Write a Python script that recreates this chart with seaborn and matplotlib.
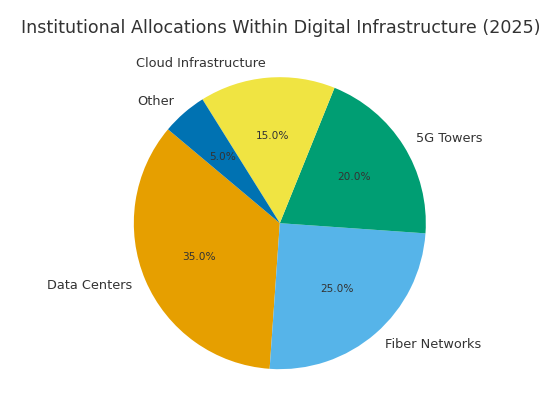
import matplotlib
matplotlib.use("Agg")
import matplotlib.pyplot as plt
import seaborn as sns

sns.set_theme(style="white")
plt.rcParams["font.family"] = ["DejaVu Sans"]

# dados
categorias = ["Data Centers", "Fiber Networks", "5G Towers", "Cloud Infrastructure", "Other"]
valores = [35, 25, 20, 15, 5]
cores = ["#E69F00", "#56B4E9", "#009E73", "#F0E442", "#0072B2"]

fig = plt.figure(figsize=(5.53, 3.95), dpi=100)
ax = fig.add_axes([0.176, -0.027, 0.66, 0.924])

wedges, textos, pcts = ax.pie(
    valores,
    labels=categorias,
    colors=cores,
    autopct="%1.1f%%",
    startangle=140,
    wedgeprops={"linewidth": 0, "edgecolor": "none"},
    textprops={"color": "#333333", "fontsize": 9.3},
)
for t in pcts:
    t.set_fontsize(7.6)
ax.set_aspect("equal")

fig.text(0.507, 0.929, "Institutional Allocations Within Digital Infrastructure (2025)",
         ha="center", va="center", fontsize=12.6, color="#333333")

fig.savefig("out.png", dpi=100, facecolor="white")
